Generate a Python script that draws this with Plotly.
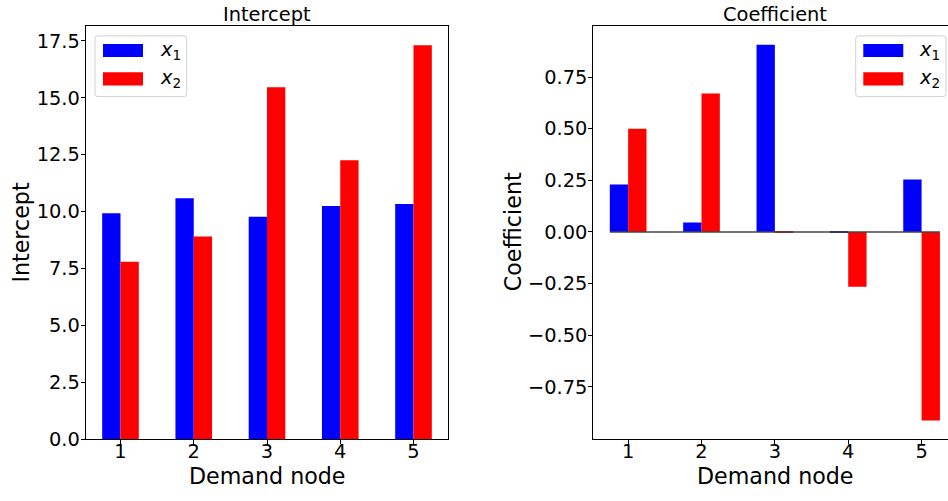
import plotly.graph_objects as go

# ---- data ----
nodes = [1, 2, 3, 4, 5]
intercept_x1 = [9.93, 10.59, 9.77, 10.24, 10.33]
intercept_x2 = [7.80, 8.91, 15.46, 12.26, 17.31]
coef_x1 = [0.23, 0.046, 0.906, -0.003, 0.254]
coef_x2 = [0.50, 0.67, -0.003, -0.266, -0.913]
series_names = ["x1", "x2"]
coef_tickvals = [-0.75, -0.50, -0.25, 0.00, 0.25, 0.50, 0.75]
coef_ticktext = ["\u22120.75", "\u22120.50", "\u22120.25", "0.00", "0.25", "0.50", "0.75"]
int_tickvals = [0, 2.5, 5, 7.5, 10, 12.5, 15, 17.5]
int_ticktext = ["0.0", "2.5", "5.0", "7.5", "10.0", "12.5", "15.0", "17.5"]

W, H = 948, 501
FONT = "DejaVu Sans"
BLUE, RED = "#0000ff", "#ff0000"
BW = 0.25
TICK_FS = 19.4
LABEL_FS = 22.2

def px(x):
    return x / W

def py(y):
    return 1 - y / H

fig = go.Figure()
fig.add_trace(go.Bar(x=nodes, y=intercept_x1, width=BW, offset=-BW, marker=dict(color=BLUE, line=dict(width=0)),
                     xaxis="x", yaxis="y", showlegend=False, name=series_names[0]))
fig.add_trace(go.Bar(x=nodes, y=intercept_x2, width=BW, offset=0, marker=dict(color=RED, line=dict(width=0)),
                     xaxis="x", yaxis="y", showlegend=False, name=series_names[1]))
fig.add_trace(go.Bar(x=nodes, y=coef_x1, width=BW, offset=-BW, marker=dict(color=BLUE, line=dict(width=0)),
                     xaxis="x2", yaxis="y2", showlegend=False, name=series_names[0]))
fig.add_trace(go.Bar(x=nodes, y=coef_x2, width=BW, offset=0, marker=dict(color=RED, line=dict(width=0)),
                     xaxis="x2", yaxis="y2", showlegend=False, name=series_names[1]))

ydom = [py(450), py(26.7)]
tickfont = dict(family=FONT, size=TICK_FS, color="black")
common_x = dict(tickmode="array", tickvals=nodes, ticktext=[str(n) for n in nodes], ticks="outside",
                ticklen=4, tickwidth=1, tickcolor="black", showline=True, linecolor="black", linewidth=1,
                showgrid=False, zeroline=False, tickfont=tickfont, mirror=True, ticklabelstandoff=-10)
common_y = dict(ticks="outside", ticklen=4, tickwidth=1, tickcolor="black", showline=True, linecolor="black",
                linewidth=1, showgrid=False, zeroline=False, tickfont=tickfont, tickmode="array",
                ticklabelstandoff=-3)

fig.update_layout(
    width=W, height=H, autosize=False, margin=dict(l=0, r=0, t=0, b=0),
    paper_bgcolor="white", plot_bgcolor="white", barmode="overlay",
    font=dict(family=FONT, color="black"),
    xaxis=dict(domain=[px(85.7), px(448.3)], range=[0.525, 5.475], anchor="y", **common_x),
    yaxis=dict(domain=ydom, range=[0, 18.15], anchor="x", tickvals=int_tickvals, ticktext=int_ticktext,
               mirror=True, **common_y),
    xaxis2=dict(domain=[px(593.3), 1.0], range=[0.525, 5.36], anchor="y2", **common_x),
    yaxis2=dict(domain=ydom, range=[-1.004, 0.997], anchor="x2", tickvals=coef_tickvals, ticktext=coef_ticktext,
                mirror=False, **common_y),
)

# zero reference line across bar extent in coefficient plot
fig.add_shape(type="line", xref="x2", yref="y2", x0=min(nodes) - BW, x1=max(nodes) + BW, y0=0, y1=0,
              line=dict(color="#444444", width=1.5), layer="above")

annotations = []
# titles
annotations.append(dict(text="Intercept", x=px(267), y=py(15), xref="paper", yref="paper",
                        showarrow=False, font=dict(family=FONT, size=TICK_FS, color="black"),
                        xanchor="center", yanchor="middle"))
annotations.append(dict(text="Coefficient", x=px(774.7), y=py(15), xref="paper", yref="paper",
                        showarrow=False, font=dict(family=FONT, size=TICK_FS, color="black"),
                        xanchor="center", yanchor="middle"))
# axis titles
for xc in (267, 775):
    annotations.append(dict(text="Demand node", x=px(xc), y=py(488), xref="paper", yref="paper",
                            showarrow=False, font=dict(family=FONT, size=LABEL_FS, color="black"),
                            xanchor="center", yanchor="middle"))
annotations.append(dict(text="Intercept", x=px(21.3), y=py(238), xref="paper", yref="paper", textangle=-90,
                        showarrow=False, font=dict(family=FONT, size=LABEL_FS, color="black"),
                        xanchor="center", yanchor="middle"))
annotations.append(dict(text="Coefficient", x=px(513), y=py(238), xref="paper", yref="paper", textangle=-90,
                        showarrow=False, font=dict(family=FONT, size=LABEL_FS, color="black"),
                        xanchor="center", yanchor="middle"))

# manual legends (pixel box positions)
def legend(x0, y0, x1, y1, patch_x0, text_x):
    r = 3
    path = (f"M {px(x0 + r)} {py(y0)} L {px(x1 - r)} {py(y0)} Q {px(x1)} {py(y0)} {px(x1)} {py(y0 + r)} "
            f"L {px(x1)} {py(y1 - r)} Q {px(x1)} {py(y1)} {px(x1 - r)} {py(y1)} "
            f"L {px(x0 + r)} {py(y1)} Q {px(x0)} {py(y1)} {px(x0)} {py(y1 - r)} "
            f"L {px(x0)} {py(y0 + r)} Q {px(x0)} {py(y0)} {px(x0 + r)} {py(y0)} Z")
    fig.add_shape(type="path", path=path, xref="paper", yref="paper",
                  line=dict(color="#d0d0d0", width=1), fillcolor="rgba(255,255,255,0.8)", layer="above")
    for (c, yt, yb, lab) in [(BLUE, 45, 58.5, "<i>x</i><sub>1</sub>"), (RED, 74, 87.5, "<i>x</i><sub>2</sub>")]:
        fig.add_shape(type="rect", xref="paper", yref="paper", x0=px(patch_x0), x1=px(patch_x0 + 40),
                      y0=py(yb), y1=py(yt), fillcolor=c, line=dict(width=0), layer="above")
        annotations.append(dict(text=lab, x=px(text_x), y=py((yt + yb) / 2), xref="paper", yref="paper",
                                showarrow=False, font=dict(family=FONT, size=TICK_FS, color="black"),
                                xanchor="left", yanchor="middle"))

legend(95, 36.7, 186.7, 99, 103, 157.5)
legend(855.7, 36.7, 946, 99, 863.3, 917)

fig.update_layout(annotations=annotations)
post = ("var de=document.documentElement, b=document.body;"
        "de.style.margin='0';de.style.overflow='hidden';"
        "b.style.margin='0';b.style.padding='0';b.style.overflow='hidden';")
fig.write_html("out.html", config={"displayModeBar": False, "responsive": False}, post_script=post)
